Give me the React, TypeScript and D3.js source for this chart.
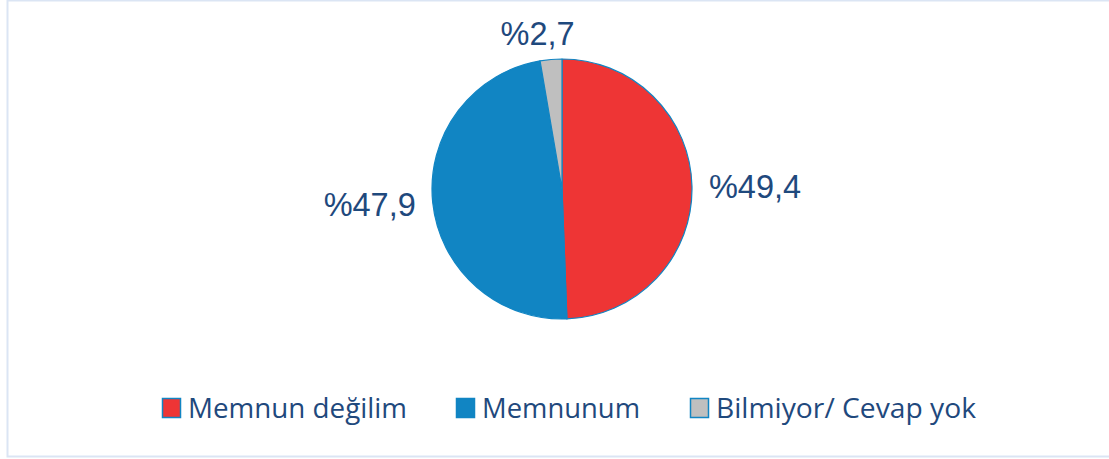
import React from "react";
import * as d3 from "d3";

const categories = ["Memnun değilim", "Memnunum", "Bilmiyor/ Cevap yok"];
const values = [49.4, 47.9, 2.7];
const labels = ["%49,4", "%47,9", "%2,7"];
const colors = ["#ee3535", "#1185c3", "#bfbfbf"];

const W = 1109;
const H = 459;

export default function App() {
  const cx = 562;
  const cy = 189;
  const r = 130;
  const pie = d3.pie<number>().sort(null).value((d) => d);
  const arcs = pie(values);
  const arc = d3.arc<d3.PieArcDatum<number>>().innerRadius(0).outerRadius(r);
  const labelR = 147;

  const legendX = [162, 456, 690];
  const legendW = [219, 158, 260];

  return (
    <svg
      width={W}
      height={H}
      style={{ position: "absolute", left: 0, top: 0, background: "#fff" }}
    >
      <rect x={7.5} y={0.5} width={W + 10} height={456} fill="#fff" stroke="#dbe5f4" strokeWidth={2} />
      <g transform={`translate(${cx},${cy})`}>
        {arcs.map((a, i) => (
          <path key={i} d={arc(a) || ""} fill={colors[i]} stroke="#1185c3" strokeWidth={1.2} strokeLinejoin="round" />
        ))}
        {arcs.map((a, i) => {
          const mid = (a.startAngle + a.endAngle) / 2;
          const sx = Math.sin(mid);
          const sy = -Math.cos(mid);
          let x = sx * labelR;
          let y = sy * labelR;
          let anchor: "start" | "end" | "middle" = "middle";
          if (Math.abs(sx) > 0.5) {
            anchor = sx > 0 ? "start" : "end";
            y += 12;
          } else {
            x -= 12;
            y += 2;
          }
          return (
            <text
              key={i}
              x={x}
              y={y}
              textAnchor={anchor}
              fontFamily="'Liberation Sans', Arial, sans-serif"
              fontSize={32.5}
              fill="#1f497d"
            >
              {labels[i]}
            </text>
          );
        })}
      </g>
      {categories.map((c, i) => (
        <g key={i}>
          <rect
            x={legendX[i] + 0.5}
            y={398.5}
            width={18}
            height={19}
            fill={colors[i]}
            stroke="#1185c3"
            strokeWidth={1.5}
          />
          <text
            x={legendX[i] + 26}
            y={418}
            fontFamily="'Open Sans', sans-serif"
            fontSize={27}
            fill="#1f497d"
            textLength={legendW[i]}
            lengthAdjust="spacingAndGlyphs"
          >
            {c}
          </text>
        </g>
      ))}
    </svg>
  );
}
